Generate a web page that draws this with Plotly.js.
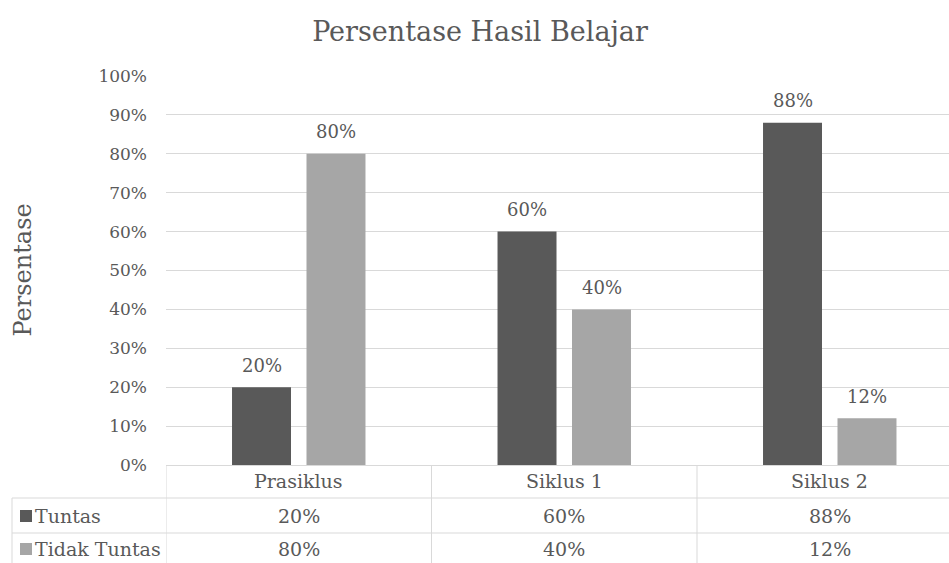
<!DOCTYPE html>
<html>
<head>
<meta charset="utf-8">
<script src="https://cdn.plot.ly/plotly-3.0.1.min.js"></script>
<style>html,body{margin:0;padding:0;background:#fff;}#chart{width:949px;height:563px;}</style>
</head>
<body>
<div id="chart"></div>
<script>
const categories = ["Prasiklus", "Siklus 1", "Siklus 2"];
const seriesNames = ["Tuntas", "Tidak Tuntas"];
const tuntas = [0.20, 0.60, 0.88];
const tidakTuntas = [0.80, 0.40, 0.12];
const yTickVals = [0, 0.1, 0.2, 0.3, 0.4, 0.5, 0.6, 0.7, 0.8, 0.9, 1.0];
const yTickText = ["0%", "10%", "20%", "30%", "40%", "50%", "60%", "70%", "80%", "90%", "100%"];

const FONT = "DejaVu Serif, Liberation Serif, serif";
const TXT = "#595959";
const DARK = "#595959";
const LIGHT = "#a6a6a6";
const GRID = "#d9d9d9";

// pixel -> paper helpers (plot area: x 166..949, y 76..465)
const L = 166, R = 949, T = 76, B = 465;
const px = p => (p - L) / (R - L);
const py = p => (B - p) / (B - T);
const pct = v => Math.round(v * 100) + "%";

const series = [tuntas, tidakTuntas];
const colors = [DARK, LIGHT];

const data = series.map((vals, i) => ({
  type: "bar",
  name: seriesNames[i],
  x: categories,
  y: vals,
  marker: {color: colors[i]},
  hoverinfo: "skip"
}));

const annotations = [];
const shifts = [-37, 37.5];
series.forEach((vals, s) => {
  vals.forEach((v, i) => {
    annotations.push({
      x: categories[i], y: v, xref: "x", yref: "y",
      text: pct(v), showarrow: false, xshift: shifts[s], yshift: 22,
      xanchor: "center", yanchor: "middle",
      font: {family: FONT, size: 18, color: TXT}
    });
  });
});
// table header row
categories.forEach(c => {
  annotations.push({x: c, y: py(481), xref: "x", yref: "paper", text: c, showarrow: false,
    xanchor: "center", yanchor: "middle",
    font: {family: FONT, size: 19, color: TXT}});
});
// table value rows
const rowY = [516, 549];
series.forEach((vals, s) => {
  vals.forEach((v, i) => {
    annotations.push({x: categories[i], y: py(rowY[s]), xref: "x", yref: "paper", text: pct(v),
      xanchor: "center", yanchor: "middle",
      showarrow: false, font: {family: FONT, size: 19, color: TXT}});
  });
  annotations.push({x: px(33), y: py(rowY[s]), xref: "paper", yref: "paper", text: seriesNames[s],
    xanchor: "left", yanchor: "middle", showarrow: false, font: {family: FONT, size: 19, color: TXT}});
});
// y axis title
annotations.push({x: px(22), y: 0.5, xref: "paper", yref: "paper", text: "Persentase", textangle: -90,
  xanchor: "center", yanchor: "middle",
  showarrow: false, font: {family: FONT, size: 24, color: TXT}});

const lineStyle = {color: GRID, width: 1};
const shapes = [];
// horizontal table lines
[498, 533].forEach(yy => shapes.push({type: "line", xref: "paper", yref: "paper",
  x0: px(12), x1: 1, y0: py(yy), y1: py(yy), line: lineStyle}));
// left edge of legend column
shapes.push({type: "line", xref: "paper", yref: "paper", x0: px(12), x1: px(12), y0: py(498), y1: py(563), line: lineStyle});
// category boundaries in table
[-0.5, 0.5, 1.5].forEach(xx => shapes.push({type: "line", xref: "x", yref: "paper",
  x0: xx, x1: xx, y0: 0, y1: py(563), line: lineStyle}));
// legend squares
rowY.forEach((yy, s) => shapes.push({type: "rect", xref: "paper", yref: "paper",
  x0: px(20), x1: px(32), y0: py(yy - 6), y1: py(yy + 6), fillcolor: colors[s], line: {width: 0}}));

const layout = {
  width: 949, height: 563,
  margin: {l: L, r: 949 - R, t: T, b: 563 - B},
  paper_bgcolor: "#fff", plot_bgcolor: "#fff",
  barmode: "group", bargap: 0.439, bargroupgap: 0.208,
  showlegend: false,
  title: {text: "Persentase Hasil Belajar", xref: "container", yref: "container",
    x: 480 / 949, y: 1 - 32 / 563, xanchor: "center", yanchor: "middle",
    font: {family: FONT, size: 27, color: TXT}},
  xaxis: {type: "category", range: [-0.5, -0.5 + (R - L) / 265.5], showticklabels: false,
    showgrid: false, zeroline: false, showline: false, ticks: "", fixedrange: true},
  yaxis: {range: [0, 1], tickvals: yTickVals, ticktext: yTickText, showgrid: true,
    gridcolor: GRID, gridwidth: 1, zeroline: true, zerolinecolor: GRID, zerolinewidth: 1,
    showline: false, ticks: "", ticklabelstandoff: 18,
    tickfont: {family: FONT, size: 17, color: TXT}, fixedrange: true},
  annotations: annotations,
  shapes: shapes
};

Plotly.newPlot("chart", data, layout, {displayModeBar: false, staticPlot: true});
</script>
</body>
</html>
